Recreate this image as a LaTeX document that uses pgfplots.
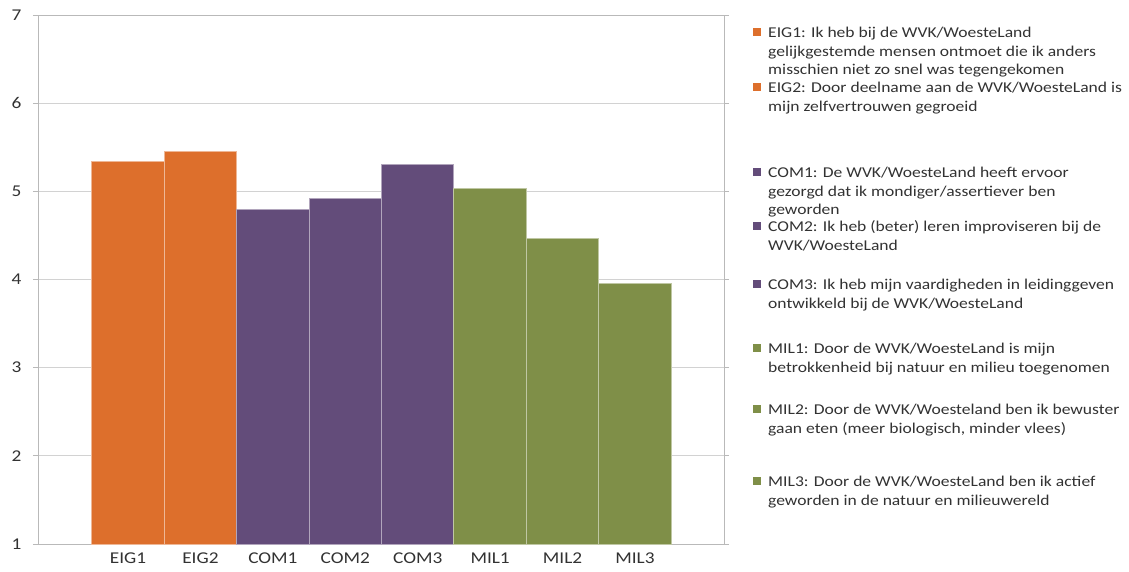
\documentclass[border=0pt]{standalone}
\usepackage{fontspec}
\setmainfont{Carlito}[FakeStretch=1.17]
\usepackage{pgfplots}
\pgfplotsset{compat=1.18}
\definecolor{cEIG}{RGB}{221,111,44}
\definecolor{cCOM}{RGB}{99,76,122}
\definecolor{cMIL}{RGB}{127,143,72}
\definecolor{txt}{RGB}{50,50,50}
\newcommand{\LE}[2]{\parbox[t][#1][t]{380pt}{\rule{0pt}{12pt}#2}}
\begin{document}
\begin{tikzpicture}
\useasboundingbox (-38pt,-27pt) rectangle (1091pt,544pt);
\begin{axis}[
  at={(0pt,0pt)}, anchor=south west,
  scale only axis, width=686pt, height=529pt,
  xmin=-1.2426, xmax=8.229, ymin=1, ymax=7,
  xtick={0,...,7}, xticklabels={EIG1,EIG2,COM1,COM2,COM3,MIL1,MIL2,MIL3},
  ytick={1,...,7},
  ymajorgrids, grid style={draw=gray!35, line width=0.8pt},
  axis line style={draw=gray!55, line width=0.8pt},
  ytick style={draw=gray!55, line width=0.8pt}, ytick align=outside, major tick length=5pt,
  xtick style={draw=none},
  tick label style={font=\fontsize{16.5}{19}\selectfont, text=txt},
  /pgf/number format/assume math mode=true,
  yticklabel style={xshift=-8pt},
  xticklabel style={yshift=-5pt},
  legend style={draw=none, fill=none, at={(1,1)}, anchor=north west, xshift=29pt, yshift=-10.5pt,
    inner sep=0pt, row sep=0pt, column sep=0pt, font=\fontsize{15}{18.4}\selectfont, text=txt,
    nodes={inner sep=0pt, text depth=}, cells={anchor=base west},
    /tikz/every odd column/.append style={column sep=7pt}},
  mybar/.style={ybar, bar width=1, bar shift=0pt, fill=#1, draw=#1!50!white, line width=1pt,
    legend image code/.code={\fill[#1] (0pt,2pt) rectangle (7pt,9pt);}},
]
\addplot[mybar=cEIG] coordinates {(0,5.34)};
\addlegendentry{\LE{55pt}{EIG1: Ik heb bij de WVK/WoesteLand\\gelijkgestemde mensen ontmoet die ik anders\\misschien niet zo snel was tegengekomen}}
\addplot[mybar=cEIG] coordinates {(1,5.45)};
\addlegendentry{\LE{85pt}{EIG2: Door deelname aan de WVK/WoesteLand is\\mijn zelfvertrouwen gegroeid}}
\addplot[mybar=cCOM] coordinates {(2,4.79)};
\addlegendentry{\LE{54pt}{COM1: De WVK/WoesteLand heeft ervoor\\gezorgd dat ik mondiger/assertiever ben\\geworden}}
\addplot[mybar=cCOM] coordinates {(3,4.92)};
\addlegendentry{\LE{58pt}{COM2: Ik heb (beter) leren improviseren bij de\\WVK/WoesteLand}}
\addplot[mybar=cCOM] coordinates {(4,5.30)};
\addlegendentry{\LE{64pt}{COM3: Ik heb mijn vaardigheden in leidinggeven\\ontwikkeld bij de WVK/WoesteLand}}
\addplot[mybar=cMIL] coordinates {(5,5.03)};
\addlegendentry{\LE{61pt}{MIL1: Door de WVK/WoesteLand is mijn\\betrokkenheid bij natuur en milieu toegenomen}}
\addplot[mybar=cMIL] coordinates {(6,4.46)};
\addlegendentry{\LE{72pt}{MIL2: Door de WVK/Woesteland ben ik bewuster\\gaan eten (meer biologisch, minder vlees)}}
\addplot[mybar=cMIL] coordinates {(7,3.95)};
\addlegendentry{\LE{37pt}{MIL3: Door de WVK/WoesteLand ben ik actief\\geworden in de natuur en milieuwereld}}
\end{axis}
\end{tikzpicture}
\end{document}
